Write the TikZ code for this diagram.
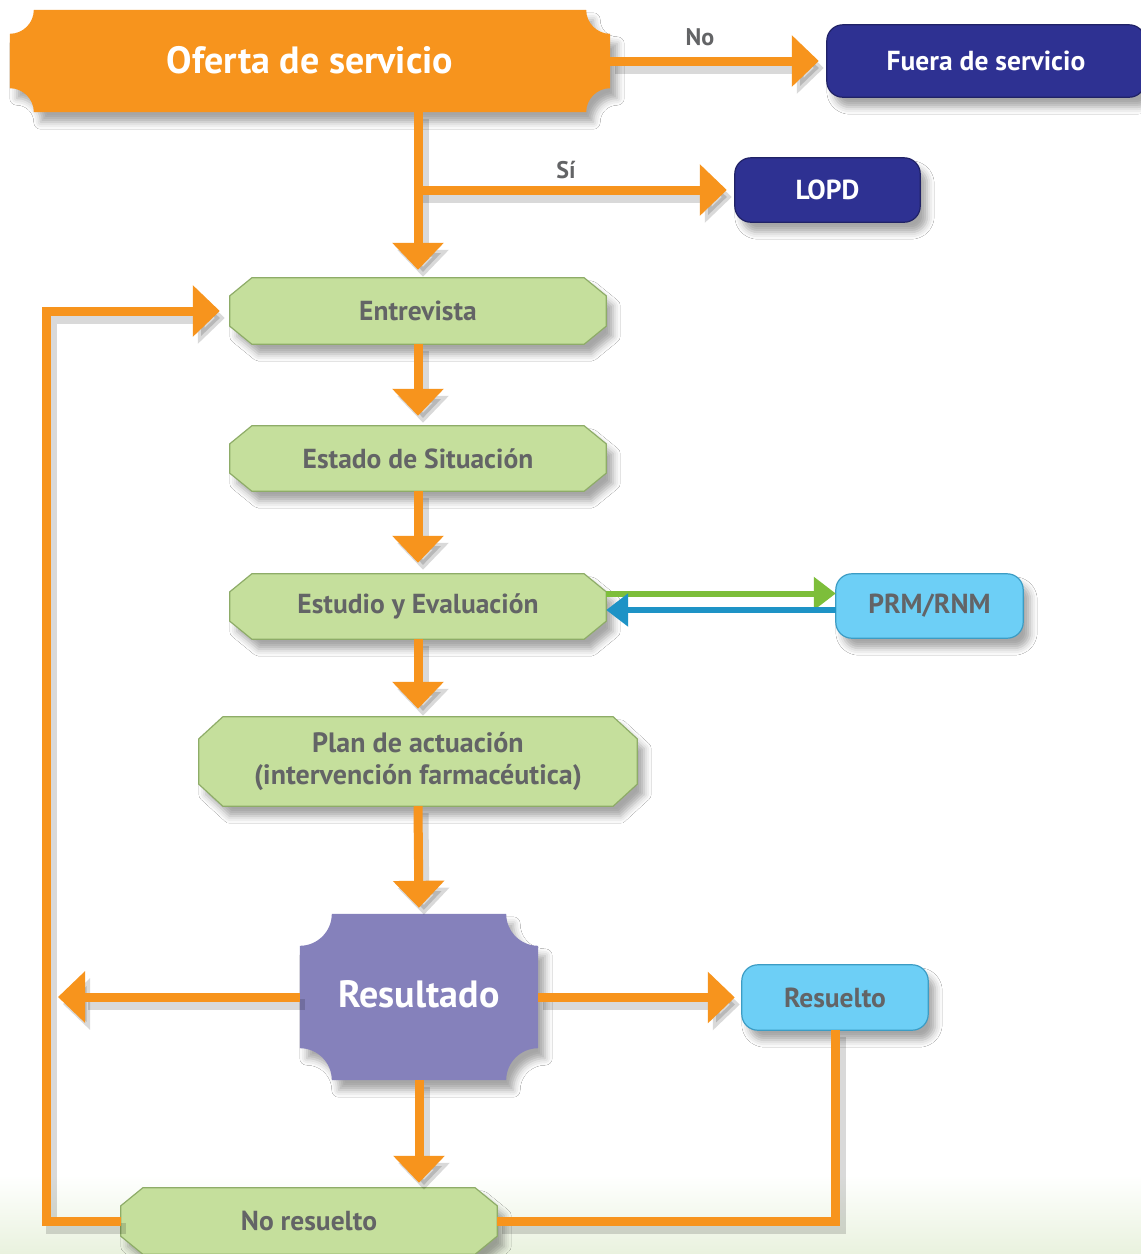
\documentclass[tikz,border=0pt]{standalone}
\usepackage{fontspec}
\setmainfont{PT Sans}
\usetikzlibrary{arrows.meta,calc,shadows.blur}
\definecolor{orangeC}{HTML}{F7941D}
\definecolor{orangeD}{HTML}{9A4C0E}
\definecolor{navyC}{HTML}{2E3192}
\definecolor{greenC}{HTML}{C5DF9C}
\definecolor{greenD}{HTML}{8EAC68}
\definecolor{txtgray}{HTML}{636466}
\definecolor{purpleC}{HTML}{8581BB}
\definecolor{lblueC}{HTML}{6DCFF6}
\definecolor{lblueD}{HTML}{3C9CC4}
\definecolor{garrow}{HTML}{7DBE3A}
\definecolor{barrow}{HTML}{1E93C6}
\definecolor{bgGreen}{HTML}{E9F2DE}
\pgfdeclarelayer{bg}
\pgfsetlayers{bg,main}
\newcommand\concaveshape[3]{%
  \fill[#3, blur shadow={shadow xshift=7pt, shadow yshift=-10pt, shadow blur radius=7pt, shadow opacity=35}]
    let \p1=(#1.north west), \p2=(#1.south east) in
    (\x1+#2,\y1) -- (\x2-#2,\y1) arc[start angle=180, end angle=270, radius=#2]
    -- (\x2,\y2+#2) arc[start angle=90, end angle=180, radius=#2]
    -- (\x1+#2,\y2) arc[start angle=0, end angle=90, radius=#2]
    -- (\x1,\y1-#2) arc[start angle=270, end angle=360, radius=#2] -- cycle;}
\newcommand\chamfershape[3]{%
  \filldraw[fill=greenC, draw=greenD, line width=1.2pt, blur shadow={shadow xshift=7pt, shadow yshift=-10pt, shadow blur radius=7pt, shadow opacity=35}]
    let \p1=(#1.north west), \p2=(#1.south east) in
    (\x1+#2,\y1) -- (\x2-#2,\y1) -- (\x2,\y1-#3) -- (\x2,\y2+#3) -- (\x2-#2,\y2)
    -- (\x1+#2,\y2) -- (\x1,\y2+#3) -- (\x1,\y1-#3) -- cycle;}
\newcommand\roundshape[3]{%
  \filldraw[fill=#2, draw=#3, line width=1.2pt, rounded corners=16pt, blur shadow={shadow xshift=7pt, shadow yshift=-10pt, shadow blur radius=7pt, shadow opacity=35}]
    (#1.north west) rectangle (#1.south east);}
\begin{document}
\begin{tikzpicture}[x=1pt,y=-1pt,
  box/.style={inner sep=0pt, align=center, font=\bfseries\fontsize{27.5}{32}\selectfont},
  graytext/.style={box, text=txtgray},
  whitetext/.style={box, text=white},
  lbl/.style={inner sep=0pt, font=\bfseries\fontsize{24}{28}\selectfont, text=txtgray},
  orangeline/.style={draw=orangeC, line width=9pt,
    preaction={draw=black, opacity=0.15, line width=11pt, transform canvas={shift={(5pt,-7pt)}}}},
  arr/.style={orangeline, -{Triangle[length=27pt,width=50pt]}, shorten >=8pt},
  greenarr/.style={draw=garrow, line width=6pt, -{Triangle[length=22pt,width=32pt]}},
  bluearr/.style={draw=barrow, line width=6pt, -{Triangle[length=22pt,width=32pt]}}
]
\useasboundingbox (0,0) rectangle (1141,1254);
\begin{pgfonlayer}{bg}
  \fill[white] (0,0) rectangle (1141,1254);
  \fill[top color=white, bottom color=bgGreen] (0,1175) rectangle (1141,1254);
\end{pgfonlayer}

% nodes
\node[whitetext, minimum width=600pt, minimum height=102pt, font=\bfseries\fontsize{38}{44}\selectfont] (oferta) at (310,61) {\raisebox{3pt}{Oferta de servicio}};
\node[whitetext, minimum width=318pt, minimum height=72pt] (fuera) at (986,61) {Fuera de servicio};
\node[whitetext, minimum width=185pt, minimum height=64pt] (lopd) at (827.5,190) {LOPD};
\node[graytext, minimum width=376pt, minimum height=66pt] (entrevista) at (418,311) {Entrevista};
\node[graytext, minimum width=376pt, minimum height=65pt] (estado) at (418,458.5) {Estado de Situación};
\node[graytext, minimum width=376pt, minimum height=65pt] (estudio) at (418,606.5) {Estudio y Evaluación};
\node[graytext, minimum width=187pt, minimum height=64pt] (prm) at (929.5,606) {PRM/RNM};
\node[graytext, minimum width=438pt, minimum height=89pt, font=\bfseries\fontsize{28}{32}\selectfont] (plan) at (418,761.5) {Plan de actuación\\(intervención farmacéutica)};
\node[whitetext, minimum width=238pt, minimum height=166pt, font=\bfseries\fontsize{38}{44}\selectfont] (resultado) at (419,997) {\raisebox{6pt}{Resultado}};
\node[graytext, minimum width=186pt, minimum height=65pt] (resuelto) at (835,997.5) {Resuelto};
\node[graytext, minimum width=376pt, minimum height=66pt] (noresuelto) at (309,1221) {No resuelto};
\node[lbl] (no) at (700,37) {No};
\node[lbl] (si) at (566,170) {Sí};

% shapes
\begin{pgfonlayer}{bg}
  \concaveshape{oferta}{24pt}{orangeC}
  \concaveshape{resultado}{32pt}{purpleC}
  \roundshape{fuera}{navyC}{navyC!70!black}
  \roundshape{lopd}{navyC}{navyC!70!black}
  \roundshape{prm}{lblueC}{lblueD}
  \roundshape{resuelto}{lblueC}{lblueD}
  \chamfershape{entrevista}{22pt}{18pt}
  \chamfershape{estado}{22pt}{18pt}
  \chamfershape{estudio}{22pt}{18pt}
  \chamfershape{plan}{24pt}{22pt}
  \chamfershape{noresuelto}{22pt}{18pt}
\end{pgfonlayer}

% connectors
\coordinate (lp) at (46,1221);
\coordinate (rl) at (58,997);
\draw[arr] (oferta.east) -- (fuera.west);
\draw[arr] (entrevista.north |- oferta.south) -- (entrevista.north);
\draw[arr] (entrevista.north |- lopd.west) -- (lopd.west);
\draw[arr, shorten >=10pt] (entrevista.south) -- (estado.north);
\draw[arr, shorten >=11pt] (estado.south) -- (estudio.north);
\draw[arr] (estudio.south) -- (plan.north);
\draw[arr, shorten >=6pt] (plan.south) -- (resultado.north);
\draw[arr, shorten >=5pt] (resultado.south) -- (resultado.south |- noresuelto.north);
\draw[arr, shorten >=0pt] (resultado.west |- rl) -- (rl);
\draw[arr, shorten >=7pt] (resultado.east |- resuelto.west) -- (resuelto.west);
\draw[orangeline] (resuelto.south) |- (noresuelto.east);
\draw[arr, shorten >=10pt] (noresuelto.west) -- (lp) |- (entrevista.west);
\draw[greenarr] ([yshift=13pt]estudio.east) -- ([yshift=13pt]estudio.east -| prm.west);
\draw[bluearr] ([yshift=-4pt]prm.west) -- ([yshift=-4pt]prm.west -| estudio.east);
\end{tikzpicture}
\end{document}
